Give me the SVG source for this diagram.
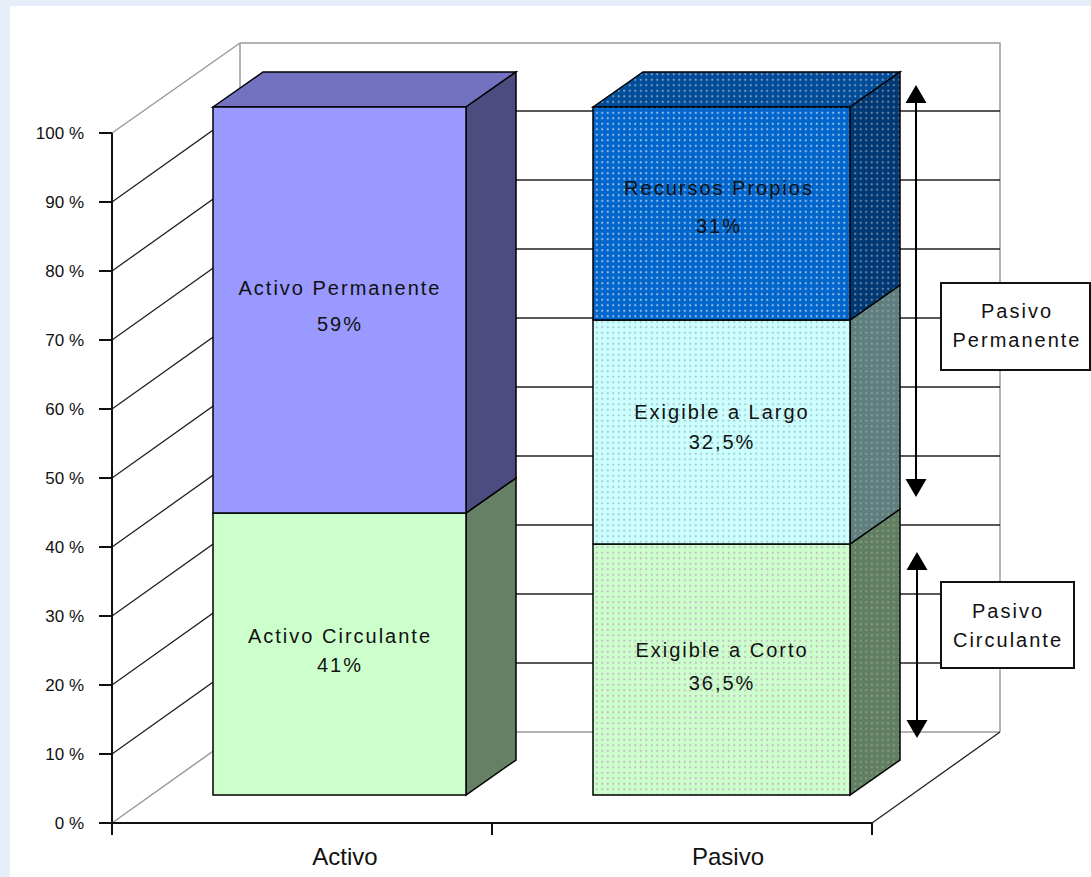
<svg xmlns="http://www.w3.org/2000/svg" width="1091" height="877" viewBox="0 0 1091 877">
  <defs>
    <style>
      .lbl { font-family: "Liberation Sans", Arial, sans-serif; fill: #111; }
      .axis { font-size: 17px; text-anchor: end; }
      .seg { font-size: 20px; letter-spacing: 2px; text-anchor: middle; }
      .cat { font-size: 24px; text-anchor: middle; }
      .edge { stroke: #000; stroke-width: 1.5; stroke-linejoin: miter; }
      .wall { stroke: #9a9a9a; stroke-width: 1.5; fill: none; }
      .grid { stroke: #222; stroke-width: 1.3; fill: none; }
      .box { fill: #fff; stroke: #111; stroke-width: 2; }
      .arrow { stroke: #000; stroke-width: 2; fill: none; }
      .head { fill: #000; }
    </style>
    <!-- dotted fills for the Pasivo segments -->
    <pattern id="dotRP" width="5.5" height="5.5" patternUnits="userSpaceOnUse">
      <rect width="5.5" height="5.5" fill="#0066CC"/>
      <circle cx="2.75" cy="2.75" r="1.1" fill="#9CBDE6"/>
    </pattern>
    <pattern id="dotRPtop" width="5.5" height="5.5" patternUnits="userSpaceOnUse">
      <rect width="5.5" height="5.5" fill="#004C99"/>
      <circle cx="2.75" cy="2.75" r="1.1" fill="#7F9CC2"/>
    </pattern>
    <pattern id="dotRPside" width="5.5" height="5.5" patternUnits="userSpaceOnUse">
      <rect width="5.5" height="5.5" fill="#003873"/>
      <circle cx="2.75" cy="2.75" r="1.1" fill="#6F88A8"/>
    </pattern>
    <pattern id="dotEL" width="5.5" height="5.5" patternUnits="userSpaceOnUse">
      <rect width="5.5" height="5.5" fill="#CCFFFF"/>
      <circle cx="2.75" cy="2.75" r="1.1" fill="#A9CACD"/>
    </pattern>
    <pattern id="dotELside" width="5.5" height="5.5" patternUnits="userSpaceOnUse">
      <rect width="5.5" height="5.5" fill="#5F7F7F"/>
      <circle cx="2.75" cy="2.75" r="1.1" fill="#8A9E9E"/>
    </pattern>
    <pattern id="dotEC" width="5.5" height="5.5" patternUnits="userSpaceOnUse">
      <rect width="5.5" height="5.5" fill="#CCFFCC"/>
      <circle cx="2.75" cy="2.75" r="1.1" fill="#C2BCC4"/>
    </pattern>
    <pattern id="dotECside" width="5.5" height="5.5" patternUnits="userSpaceOnUse">
      <rect width="5.5" height="5.5" fill="#607F60"/>
      <circle cx="2.75" cy="2.75" r="1.1" fill="#8A9A8A"/>
    </pattern>
  </defs>

  <!-- page background and chart panel -->
  <rect x="0" y="0" width="1091" height="877" fill="#E6EEF9"/>
  <rect x="10" y="6" width="1081" height="871" fill="#FFFFFF"/>

  <!-- chart walls, floor and gridlines -->
  <g id="chart-frame">
    <path class="wall" d="M240,43 H1000 V732 M240,43 V732 H1000 M112,133 L240,43 M112,823 L240,732"/>
    <g class="grid">
      <path d="M112,754 L240,663 H1000"/>
      <path d="M112,685 L240,594 H1000"/>
      <path d="M112,616 L240,525 H1000"/>
      <path d="M112,547 L240,456 H1000"/>
      <path d="M112,478 L240,387 H1000"/>
      <path d="M112,409 L240,318 H1000"/>
      <path d="M112,340 L240,249 H1000"/>
      <path d="M112,271 L240,180 H1000"/>
      <path d="M112,202 L240,111 H1000"/>
      <path d="M872,823 L1000,732"/>
    </g>
    <!-- axes and ticks -->
    <path d="M112,133 V835 M99,823 H872 M492,823 V835 M872,823 V835" stroke="#111" stroke-width="2" fill="none"/>
    <path d="M99,133 H112 M99,202 H112 M99,271 H112 M99,340 H112 M99,409 H112 M99,478 H112 M99,547 H112 M99,616 H112 M99,685 H112 M99,754 H112" stroke="#111" stroke-width="2" fill="none"/>
    <g class="lbl axis">
      <text x="84" y="139">100 %</text>
      <text x="84" y="208">90 %</text>
      <text x="84" y="277">80 %</text>
      <text x="84" y="346">70 %</text>
      <text x="84" y="415">60 %</text>
      <text x="84" y="484">50 %</text>
      <text x="84" y="553">40 %</text>
      <text x="84" y="622">30 %</text>
      <text x="84" y="691">20 %</text>
      <text x="84" y="760">10 %</text>
      <text x="84" y="829">0 %</text>
    </g>
    <g class="lbl cat">
      <text x="345" y="865">Activo</text>
      <text x="728" y="865">Pasivo</text>
    </g>
  </g>

  <!-- Activo column -->
  <g id="activo-circulante">
    <polygon class="edge" points="466,513 516,478 516,760 466,795" fill="#668066"/>
    <rect class="edge" x="213" y="513" width="253" height="282" fill="#CCFFCC"/>
    <text class="lbl seg" x="340" y="643">Activo Circulante</text>
    <text class="lbl seg" x="340" y="672">41%</text>
  </g>
  <g id="activo-permanente">
    <polygon class="edge" points="213,107 263,72 516,72 466,107" fill="#7272C0"/>
    <polygon class="edge" points="466,107 516,72 516,478 466,513" fill="#4C4C80"/>
    <rect class="edge" x="213" y="107" width="253" height="406" fill="#9999FF"/>
    <text class="lbl seg" x="340" y="295">Activo Permanente</text>
    <text class="lbl seg" x="340" y="331">59%</text>
  </g>

  <!-- Pasivo column -->
  <g id="exigible-corto">
    <polygon class="edge" points="850,544 900,509 900,760 850,795" fill="url(#dotECside)"/>
    <rect class="edge" x="593" y="544" width="257" height="251" fill="url(#dotEC)"/>
    <text class="lbl seg" x="722" y="657">Exigible a Corto</text>
    <text class="lbl seg" x="722" y="690">36,5%</text>
  </g>
  <g id="exigible-largo">
    <polygon class="edge" points="850,320 900,285 900,509 850,544" fill="url(#dotELside)"/>
    <rect class="edge" x="593" y="320" width="257" height="224" fill="url(#dotEL)"/>
    <text class="lbl seg" x="722" y="419">Exigible a Largo</text>
    <text class="lbl seg" x="722" y="449">32,5%</text>
  </g>
  <g id="recursos-propios">
    <polygon class="edge" points="593,107 643,72 900,72 850,107" fill="url(#dotRPtop)"/>
    <polygon class="edge" points="850,107 900,72 900,285 850,320" fill="url(#dotRPside)"/>
    <rect class="edge" x="593" y="107" width="257" height="213" fill="url(#dotRP)"/>
    <text class="lbl seg" x="719" y="195" letter-spacing="1.5">Recursos Propios</text>
    <text class="lbl seg" x="719" y="233">31%</text>
  </g>

  <!-- bracket labels -->
  <g id="pasivo-permanente">
    <rect class="box" x="941" y="283" width="149" height="87"/>
    <text class="lbl seg" x="1017" y="318">Pasivo</text>
    <text class="lbl seg" x="1017" y="347">Permanente</text>
  </g>
  <g id="pasivo-circulante">
    <rect class="box" x="941" y="582" width="133" height="86"/>
    <text class="lbl seg" x="1008" y="618">Pasivo</text>
    <text class="lbl seg" x="1008" y="647">Circulante</text>
  </g>

  <!-- double-headed span arrows -->
  <g id="connectors">
    <path class="arrow" d="M916,100 V482"/>
    <polygon class="head" points="916,85 905.5,103 926.5,103"/>
    <polygon class="head" points="916,497 905.5,479 926.5,479"/>
    <path class="arrow" d="M917,567 V723"/>
    <polygon class="head" points="917,552 906.5,570 927.5,570"/>
    <polygon class="head" points="917,738 906.5,720 927.5,720"/>
  </g>
</svg>
